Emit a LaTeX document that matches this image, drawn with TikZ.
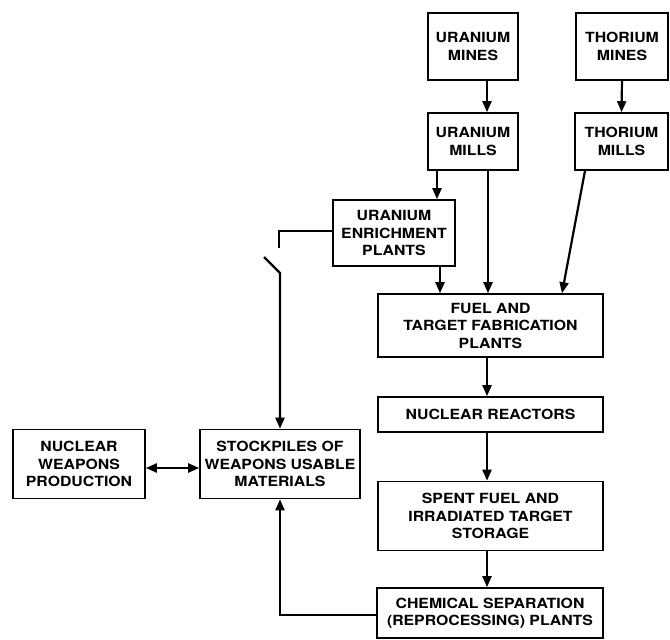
\documentclass[tikz,border=0pt]{standalone}
\usepackage{fontspec}
\setmainfont{TeX Gyre Heros}[FakeStretch=1.13]
\usetikzlibrary{arrows.meta}
\tikzset{
  box/.style={draw, line width=1.6pt, inner sep=0pt, align=center,
    font=\fontsize{14}{17.5}\selectfont\bfseries},
  conn/.style={line width=2.2pt},
  arr/.style={conn, -{Triangle[length=11pt,width=9pt]}},
  darr/.style={conn, {Triangle[length=11pt,width=9pt]}-{Triangle[length=11pt,width=9pt]}}
}
\begin{document}
\begin{tikzpicture}[x=1pt,y=-1pt]
\useasboundingbox (0,0) rectangle (670,640);
\node[box, minimum width=90pt, minimum height=67pt] (umines) at (473,46.5) {URANIUM\\MINES};
\node[box, minimum width=92pt, minimum height=67pt] (tmines) at (622,46.5) {THORIUM\\MINES};
\node[box, minimum width=90pt, minimum height=57pt] (umills) at (473,141.5) {URANIUM\\MILLS};
\node[box, minimum width=93pt, minimum height=57pt] (tmills) at (621.5,141.5) {THORIUM\\MILLS};
\node[box, minimum width=122pt, minimum height=66pt] (enrich) at (394,233) {URANIUM\\ENRICHMENT\\PLANTS};
\node[box, minimum width=225pt, minimum height=63pt] (fuel) at (490.5,325.5) {FUEL AND\\TARGET FABRICATION\\PLANTS};
\node[box, minimum width=225pt, minimum height=35pt] (react) at (490.5,414.5) {NUCLEAR REACTORS};
\node[box, minimum width=225pt, minimum height=69pt] (spent) at (490.5,516) {SPENT FUEL AND\\IRRADIATED TARGET\\STORAGE};
\node[box, minimum width=226pt, minimum height=50pt] (chem) at (490,613) {CHEMICAL SEPARATION\\(REPROCESSING) PLANTS};
\node[box, minimum width=160pt, minimum height=69pt] (stock) at (280,464) {STOCKPILES OF\\WEAPONS USABLE\\MATERIALS};
\node[box, minimum width=132pt, minimum height=69pt] (nweap) at (79,464) {NUCLEAR\\WEAPONS\\PRODUCTION};
\coordinate (ax) at (487,0);
\coordinate (s1) at (279,248);
\coordinate (s2) at (264,257);
\coordinate (s3) at (280,273);
% top arrows
\draw[arr] (umines.south -| ax) -- (umills.north -| ax);
\draw[arr] (tmines.south) -- (tmills.north);
\draw[arr] ([xshift=-36pt]umills.south) -- ([xshift=43pt]enrich.north);
\draw[arr] ([xshift=15pt]umills.south) -- ([xshift=-2.5pt]fuel.north);
\draw[arr] ([xshift=-36.5pt]tmills.south) -- ([xshift=71.5pt]fuel.north);
\draw[arr] ([xshift=46pt]enrich.south) -- ([xshift=-50.5pt]fuel.north);
% main chain
\draw[arr] (fuel.south -| ax) -- (react.north -| ax);
\draw[arr] (react.south -| ax) -- (spent.north -| ax);
\draw[arr] (spent.south -| ax) -- (chem.north -| ax);
% enrichment to stockpiles (switch)
\draw[conn] ([yshift=2pt]enrich.west) -| (s1);
\draw[arr] (s2) -- (s3) -- (stock.north);
% reprocessing back to stockpiles
\draw[arr] ([yshift=-2pt]chem.west) -| (stock.south);
% weapons production
\draw[darr] ([yshift=-4pt]nweap.east) -- ([yshift=-4pt]stock.west);
\end{tikzpicture}
\end{document}
